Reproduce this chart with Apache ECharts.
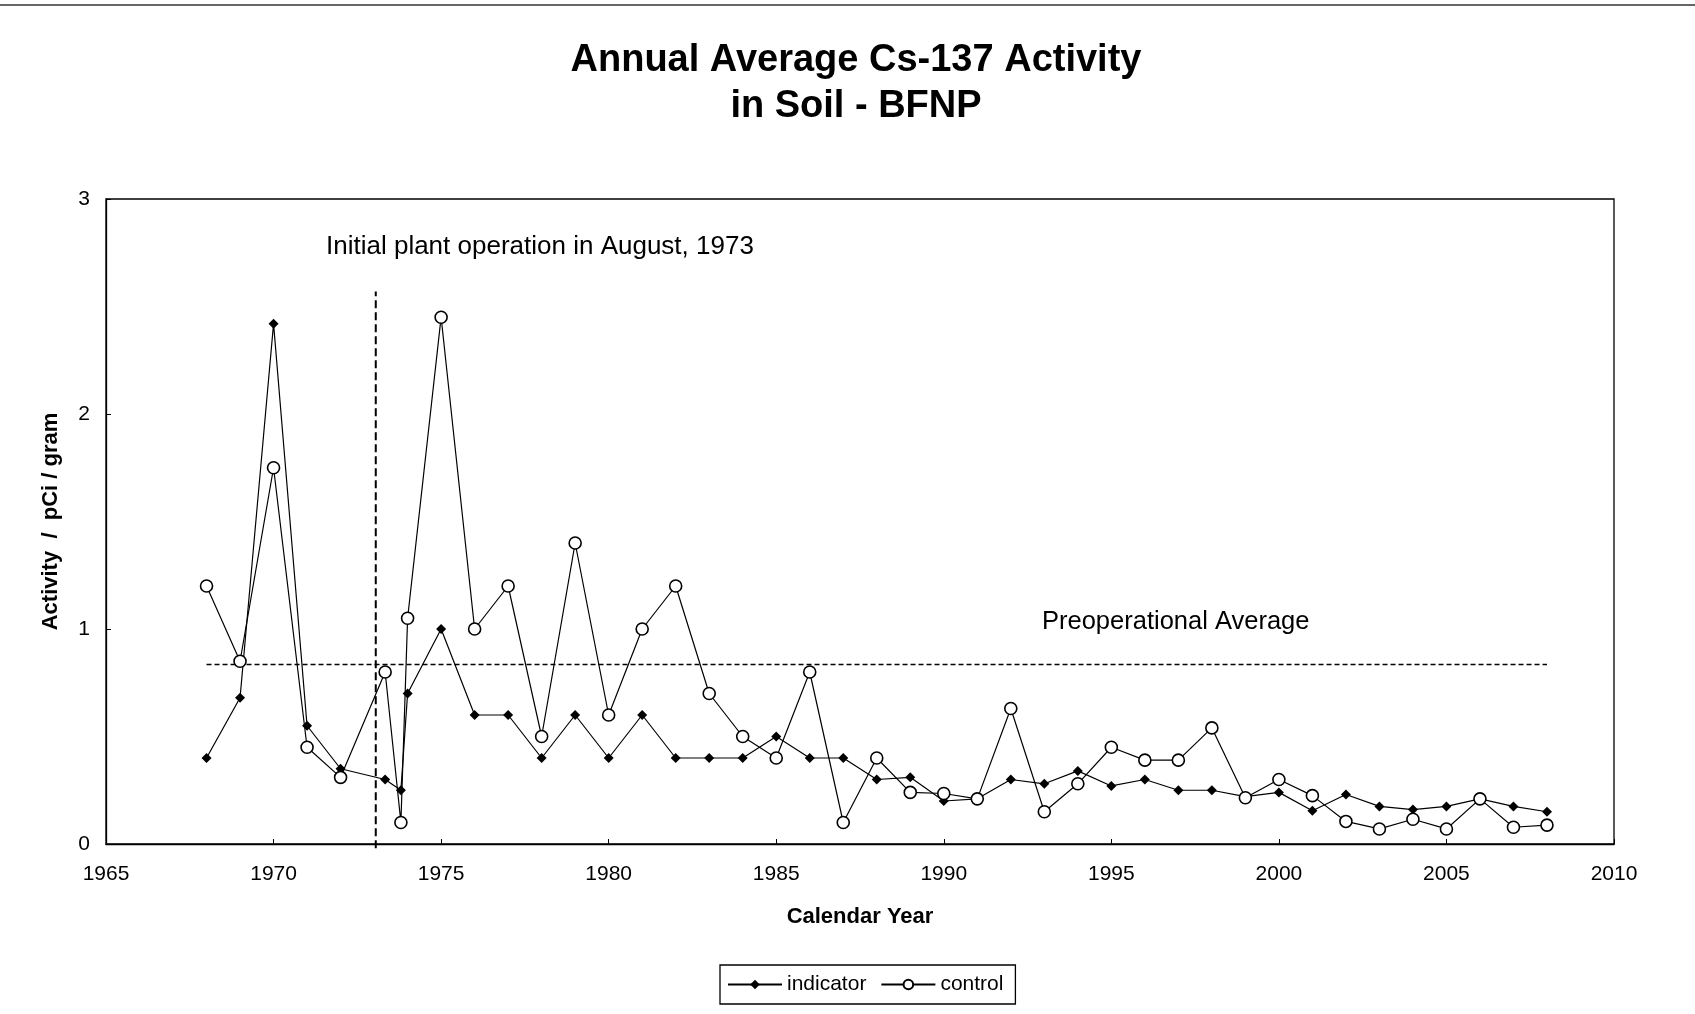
<!DOCTYPE html>
<html>
<head>
<meta charset="utf-8">
<script src="https://cdn.jsdelivr.net/npm/echarts@6/dist/echarts.min.js"></script>
<style>
html,body{margin:0;padding:0;background:#fff;}
#chart{width:1695px;height:1014px;}
</style>
</head>
<body>
<div id="chart"></div>
<script>
// ---- data ----
var titleLines = ['Annual Average Cs-137 Activity', 'in Soil - BFNP'];
var xAxisName = 'Calendar Year';
var yAxisName = 'Activity  /  pCi / gram';
var seriesNames = ['indicator', 'control'];
var years = [1968, 1969, 1970, 1971, 1972, 1973.33, 1973.8, 1974, 1975, 1976, 1977, 1978, 1979, 1980,
             1981, 1982, 1983, 1984, 1985, 1986, 1987, 1988, 1989, 1990, 1991, 1992, 1993, 1994,
             1995, 1996, 1997, 1998, 1999, 2000, 2001, 2002, 2003, 2004, 2005, 2006, 2007, 2008];
var indicator = [0.40, 0.68, 2.42, 0.55, 0.35, 0.30, 0.25, 0.70, 1.00, 0.60, 0.60, 0.40, 0.60, 0.40,
                 0.60, 0.40, 0.40, 0.40, 0.50, 0.40, 0.40, 0.30, 0.31, 0.20, 0.21, 0.30, 0.28, 0.34,
                 0.27, 0.30, 0.25, 0.25, 0.22, 0.24, 0.155, 0.23, 0.175, 0.16, 0.175, 0.21, 0.175, 0.15];
var control = [1.20, 0.85, 1.75, 0.45, 0.31, 0.80, 0.10, 1.05, 2.45, 1.00, 1.20, 0.50, 1.40, 0.60,
               1.00, 1.20, 0.70, 0.50, 0.40, 0.80, 0.10, 0.40, 0.24, 0.235, 0.21, 0.63, 0.15, 0.28,
               0.45, 0.39, 0.39, 0.54, 0.215, 0.30, 0.225, 0.105, 0.07, 0.115, 0.07, 0.21, 0.078, 0.088];
var preopYears = [1968, 2008];
var preopValue = 0.835;
var opStartYear = 1973.05;
var opLineRange = [-0.02, 2.57];
var xTicks = {min: 1965, max: 2010, interval: 5};
var yTicks = {min: 0, max: 3, interval: 1};
var noteOperation = 'Initial plant operation in August, 1973';
var notePreop = 'Preoperational Average';

// ---- chart ----
var FONT = '"Liberation Sans", Arial, sans-serif';
var chart = echarts.init(document.getElementById('chart'), null, {renderer: 'canvas'});

function pairs(xs, ys) { return xs.map(function (x, i) { return [x, ys[i]]; }); }

var option = {
  backgroundColor: '#ffffff',
  animation: false,
  textStyle: {fontFamily: FONT, color: '#000'},
  grid: {left: 106, right: 81, top: 199, bottom: 170, show: true, borderColor: '#000', borderWidth: 1.3, backgroundColor: 'transparent'},
  xAxis: {
    type: 'value', min: xTicks.min, max: xTicks.max, interval: xTicks.interval,
    name: xAxisName, nameLocation: 'middle', nameGap: 62,
    nameTextStyle: {fontFamily: FONT, fontSize: 22, fontWeight: 'bold', color: '#000'},
    axisLine: {show: true, lineStyle: {color: '#000', width: 1.3}},
    axisTick: {show: true, inside: true, length: 5, lineStyle: {color: '#000'}},
    axisLabel: {fontFamily: FONT, fontSize: 21, color: '#000', margin: 20, formatter: function (v) { return String(v); }},
    splitLine: {show: false}
  },
  yAxis: {
    type: 'value', min: yTicks.min, max: yTicks.max, interval: yTicks.interval,
    name: yAxisName, nameLocation: 'middle', nameGap: 44, nameRotate: 90,
    nameTextStyle: {fontFamily: FONT, fontSize: 22, fontWeight: 'bold', color: '#000'},
    axisLine: {show: true, lineStyle: {color: '#000', width: 1.3}},
    axisTick: {show: true, inside: true, length: 5, lineStyle: {color: '#000'}},
    axisLabel: {fontFamily: FONT, fontSize: 21, color: '#000', margin: 16},
    splitLine: {show: false}
  },
  legend: {
    data: seriesNames,
    left: 720, top: 965,
    orient: 'horizontal',
    itemWidth: 54, itemHeight: 12, itemGap: 14,
    padding: [9, 12, 9, 7],
    borderColor: '#000', borderWidth: 1.3,
    textStyle: {fontFamily: FONT, fontSize: 21, color: '#000'}
  },
  graphic: [
    {type: 'text', x: 856, y: 60.5, style: {text: titleLines[0], font: 'bold 38px ' + FONT, fill: '#000', textAlign: 'center', textVerticalAlign: 'middle'}},
    {type: 'text', x: 856, y: 107, style: {text: titleLines[1], font: 'bold 38px ' + FONT, fill: '#000', textAlign: 'center', textVerticalAlign: 'middle'}},
    {type: 'text', x: 326, y: 246.5, style: {text: noteOperation, font: '26px ' + FONT, fill: '#000', textAlign: 'left', textVerticalAlign: 'middle'}},
    {type: 'text', x: 1042, y: 621.5, style: {text: notePreop, font: '25.5px ' + FONT, fill: '#000', textAlign: 'left', textVerticalAlign: 'middle'}},
    {type: 'line', shape: {x1: 0, y1: 5, x2: 1695, y2: 5}, style: {stroke: '#333', lineWidth: 1.5}}
  ],
  series: [
    {
      name: seriesNames[0], type: 'line', data: pairs(years, indicator),
      symbol: 'diamond', symbolSize: 10, showAllSymbol: true,
      lineStyle: {color: '#000', width: 1.2},
      itemStyle: {color: '#000', borderColor: '#000', borderWidth: 0},
      z: 3
    },
    {
      name: seriesNames[1], type: 'line', data: pairs(years, control),
      symbol: 'circle', symbolSize: 12, showAllSymbol: true,
      lineStyle: {color: '#000', width: 1.2},
      itemStyle: {color: '#fff', borderColor: '#000', borderWidth: 1.6},
      z: 4
    },
    {
      name: 'preop', type: 'line', data: pairs(preopYears, [preopValue, preopValue]),
      symbol: 'none', silent: true,
      lineStyle: {color: '#000', width: 1.3, type: [5, 3]},
      z: 2
    },
    {
      name: 'opstart', type: 'line', data: pairs([opStartYear, opStartYear], opLineRange),
      symbol: 'none', silent: true, clip: false,
      lineStyle: {color: '#000', width: 2, type: [8, 4]},
      z: 2
    }
  ]
};
chart.setOption(option);
</script>
</body>
</html>
